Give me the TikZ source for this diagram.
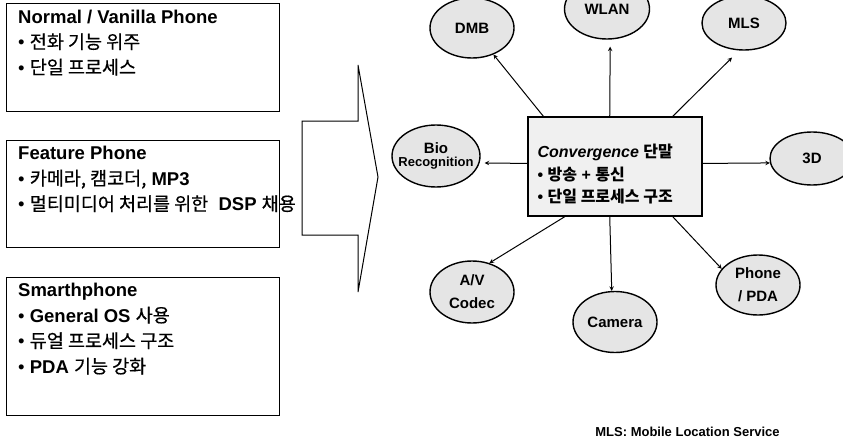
\documentclass[tikz,border=0pt]{standalone}
\usepackage{fontspec}
\setmainfont{Liberation Sans}
\newfontfamily\kr[UprightFeatures={FakeBold=0.6}]{Noto Sans CJK KR}
\usetikzlibrary{arrows, positioning, shapes.geometric}
\tikzset{
  >=stealth,
  phonebox/.style={draw, line width=1.2pt, minimum width=273pt, anchor=north west, inner sep=0pt},
  boxtext/.style={anchor=north west, align=left, inner sep=0pt, font=\fontsize{18.5}{25.5}\selectfont},
  feat/.style={ellipse, draw, line width=1.4pt, fill=gray!20, minimum width=84pt, minimum height=60pt, inner sep=0pt},
  feattext/.style={align=center, inner sep=0pt, font=\fontsize{15}{23}\selectfont\bfseries},
  link/.style={draw, ->, line width=1pt},
}

\begin{document}
\begin{tikzpicture}[x=1pt, y=-1pt]
      \useasboundingbox (0,0) rectangle (843,439);
      \clip (0,0) rectangle (843,439);

      % phone generations
      \node[phonebox, minimum height=108pt] (normal)  at (6,3)   {};
      \node[phonebox, minimum height=107pt] (feature) at (6,140) {};
      \node[phonebox, minimum height=138pt] (smart)   at (6,277) {};

      \draw[line width=1pt] (302,121) -- (358,121) -- (358,65) -- (378,177)
            -- (358,292) -- (358,235) -- (302,235) -- cycle;

      \node[boxtext] (normaltxt) at ([xshift=12pt,yshift=-6.5pt]normal.north west)
            {\textbf{Normal / Vanilla Phone}\\• {\kr 전화 기능 위주}\\• {\kr 단일 프로세스}};
      \node[boxtext] (featuretxt) at ([xshift=12pt,yshift=-6pt]feature.north west)
            {\textbf{Feature Phone}\\• {\kr 카메라, 캠코더,} \textbf{MP3}\\• {\kr 멀티미디어 처리를 위한}~ \textbf{DSP} {\kr 채용}};
      \node[boxtext] (smarttxt) at ([xshift=12pt,yshift=-6pt]smart.north west)
            {\textbf{Smarthphone}\\• \textbf{General OS} {\kr 사용}\\• {\kr 듀얼 프로세스 구조}\\• \textbf{PDA} {\kr 기능 강화}};

      % convergence terminal
      \node[draw, line width=1.2pt, fill=gray!12, minimum width=174pt, minimum height=99pt, inner sep=0pt] (conv) at (615,166.5) {};
      \node[anchor=west, align=left, inner sep=0pt, font=\fontsize{16}{22.5}\selectfont\bfseries] (convtxt)
            at ([xshift=10pt,yshift=-8pt]conv.west)
            {\textit{Convergence} {\kr 단말}\\• {\kr 방송} + {\kr 통신}\\• {\kr 단일 프로세스 구조}};

      \node[feat, label={[feattext]center:DMB}]                      (dmb)    at (472,28)    {};
      \node[feat, minimum width=85pt, label={[feattext]center:WLAN}] (wlan)   at (607,9)     {};
      \node[feat, minimum height=54pt, label={[feattext]center:MLS}] (mls)    at (744,23)    {};
      \node[feat, minimum width=88pt, minimum height=62pt,
            label={[feattext, font=\fontsize{15}{13}\selectfont\bfseries]center:{Bio\\{\fontsize{13}{13}\selectfont Recognition}}}] (bio) at (436,156) {};
      \node[feat, minimum height=53pt, label={[feattext]center:3D}]  (threed) at (812,158.5) {};
      \node[feat, minimum height=62pt, label={[feattext]center:{A/V\\Codec}}] (av) at (472,292) {};
      \node[feat, minimum height=61pt, label={[feattext]center:Camera}] (cam) at (615,322) {};
      \node[feat, label={[feattext]center:{Phone\\/ PDA}}]          (phone)  at (758,285)   {};

      \path (conv.145)  edge[link] (dmb)
            (conv.96)   edge[link, shorten >=7pt]  (wlan.-84)
            (conv.41)   edge[link, shorten >=10pt] (mls.-100)
            (conv.178)  edge[link, shorten >=5pt]  (bio.-9)
            (conv.2)    edge[link] (threed.186)
            (conv.-135) edge[link] (av.59)
            (conv.-96)  edge[link] (cam.96)
            (conv.-41)  edge[link] (phone.156);

      \node[font=\fontsize{13}{14}\selectfont\bfseries] (mlsnote) at (687.5,432) {MLS: Mobile Location Service};
\end{tikzpicture}
\end{document}
